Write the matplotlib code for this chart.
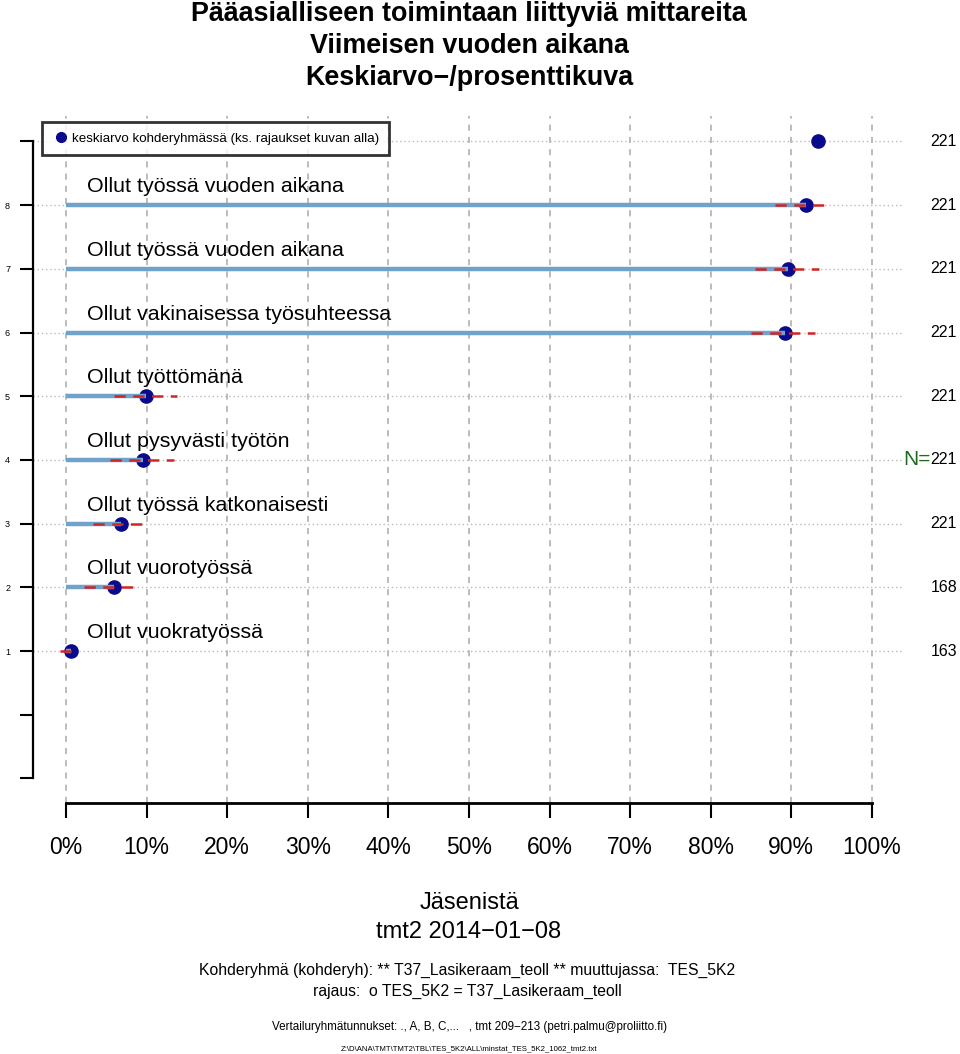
import numpy as np
import matplotlib
matplotlib.use('Agg')
import matplotlib.pyplot as plt
from matplotlib.lines import Line2D
import matplotlib.transforms as mtransforms

plt.rcParams['font.family'] = ['Liberation Sans', 'DejaVu Sans']

# rivit alhaalta ylos (1 = alin)
labels = ['Ollut vuokratyössä', 'Ollut vuorotyössä', 'Ollut työssä katkonaisesti',
          'Ollut pysyvästi työtön', 'Ollut työttömänä', 'Ollut vakinaisessa työsuhteessa',
          'Ollut työssä vuoden aikana', 'Ollut työssä vuoden aikana']
rivi = [1, 2, 3, 4, 5, 6, 7, 8]
keskiarvo = [0.6, 6.0, 6.8, 9.5, 9.9, 89.2, 89.6, 91.8]
ala = [-0.7, 2.2, 3.3, 5.5, 6.0, 85.0, 85.5, 88.0]
yla = [1.4, 8.8, 9.9, 13.4, 13.8, 92.9, 93.4, 94.7]
n_arvot = [163, 168, 221, 221, 221, 221, 221, 221]

# ylin rivi (legendan kohdalla)
ylin_rivi = 9
ylin_keskiarvo = 93.3
ylin_n = 221

xtikit = np.arange(0, 101, 10)
xtikit_lab = [f'{v}%' for v in xtikit]

fig = plt.figure(figsize=(9.6, 10.54), dpi=100)
W, H = 960, 1054
ax = fig.add_axes([33 / W, (H - 803) / H, (905 - 33) / W, (803 - 116) / H])
ax.set_xlim(-4.09, 104.1)
ax.set_ylim(-1.386, 9.40)

# ruudukko
for xv in xtikit:
    ax.axvline(xv, color='#aaaaaa', linestyle=(0, (4, 4)), linewidth=1.1, zorder=1)
for yv in rivi + [ylin_rivi]:
    ax.plot([-4.09, 104.1 - 0.4], [yv, yv], color='#bbbbbb', linestyle=(0, (1, 2)),
            linewidth=1.0, zorder=1)

for y, m, lo, hi, lab in zip(rivi, keskiarvo, ala, yla, labels):
    ax.plot(m, y, 'o', color='#0a0a8c', markersize=9.5, zorder=3)
    ax.plot([0, m], [y, y], color='#6fa3cc', linewidth=3.2, solid_capstyle='butt', zorder=4)
    ax.plot([lo, hi], [y, y], color='#d02525', linestyle=(0, (4.5, 3)), linewidth=1.8, zorder=5)
    ax.text(2.6, y + 0.29, lab, fontsize=15.4, va='center', ha='left', zorder=6)

ax.plot(ylin_keskiarvo, ylin_rivi, 'o', color='#0a0a8c', markersize=9.5, zorder=3)

# N-arvot oikealla
trans = mtransforms.blended_transform_factory(fig.transFigure, ax.transData)
for y, n in zip(rivi + [ylin_rivi], n_arvot + [ylin_n]):
    ax.text(957 / W, y, str(n), transform=trans, ha='right', va='center', fontsize=11.5)
ax.text(931 / W, 4, 'N=', transform=trans, ha='right', va='center', fontsize=15,
        color='#1e6b1e')

# akselit
for s in ['top', 'right']:
    ax.spines[s].set_visible(False)
ax.spines['left'].set_bounds(-1, 9)
ax.spines['left'].set_linewidth(1.6)
ax.spines['bottom'].set_bounds(0, 100)
ax.spines['bottom'].set_linewidth(2.0)
ax.set_xticks(xtikit)
ax.set_xticklabels(xtikit_lab, fontsize=16.5)
ax.tick_params(axis='x', length=11, width=1.5, pad=13)
ax.set_yticks(np.arange(-1, 10))
ax.set_yticklabels(['', ''] + [str(r) for r in rivi] + [''], fontsize=6.5)
ax.tick_params(axis='y', length=9.5, width=1.5, pad=7)

# legenda
h = Line2D([], [], marker='o', color='#0a0a8c', linestyle='none', markersize=7)
leg = ax.legend([h], ['keskiarvo kohderyhmässä (ks. rajaukset kuvan alla)'],
                loc='upper left', bbox_to_anchor=(9 / 872, 1 - 6 / 687), fontsize=9.6,
                frameon=True, fancybox=False, borderpad=0.78, handletextpad=0.15,
                handlelength=1.3, borderaxespad=0)
leg.get_frame().set_edgecolor('black')
leg.get_frame().set_linewidth(2)
leg.set_zorder(10)

# otsikot
tx = 469 / W
fig.text(tx, 1 - 14 / H, 'Pääasialliseen toimintaan liittyviä mittareita', ha='center',
         va='center', fontsize=19.4, fontweight='bold')
fig.text(tx, 1 - 46 / H, 'Viimeisen vuoden aikana', ha='center', va='center',
         fontsize=19.4, fontweight='bold')
fig.text(tx, 1 - 78 / H, 'Keskiarvo\u2212/prosenttikuva', ha='center', va='center',
         fontsize=19.4, fontweight='bold')

cx = 469 / W
fig.text(cx, 1 - 903 / H, 'Jäsenistä', ha='center', va='center', fontsize=17)
fig.text(cx, 1 - 932 / H, 'tmt2 2014\u221201\u221208', ha='center', va='center', fontsize=17)
fig.text(467 / W, 1 - 970 / H,
         'Kohderyhmä (kohderyh): ** T37_Lasikeraam_teoll ** muuttujassa:  TES_5K2',
         ha='center', va='center', fontsize=11.3)
fig.text(467 / W, 1 - 991 / H, 'rajaus:  o TES_5K2 = T37_Lasikeraam_teoll',
         ha='center', va='center', fontsize=11.3)
fig.text(cx, 1 - 1027 / H,
         'Vertailuryhmätunnukset: ., A, B, C,...   , tmt 209\u2212213 (petri.palmu@proliitto.fi)',
         ha='center', va='center', fontsize=8.4)
fig.text(cx, 1 - 1049 / H,
         'Z:\\D\\ANA\\TMT\\TMT2\\TBL\\TES_5K2\\ALL\\minstat_TES_5K2_1062_tmt2.txt',
         ha='center', va='center', fontsize=5.6)

fig.savefig('out.png', dpi=100)
